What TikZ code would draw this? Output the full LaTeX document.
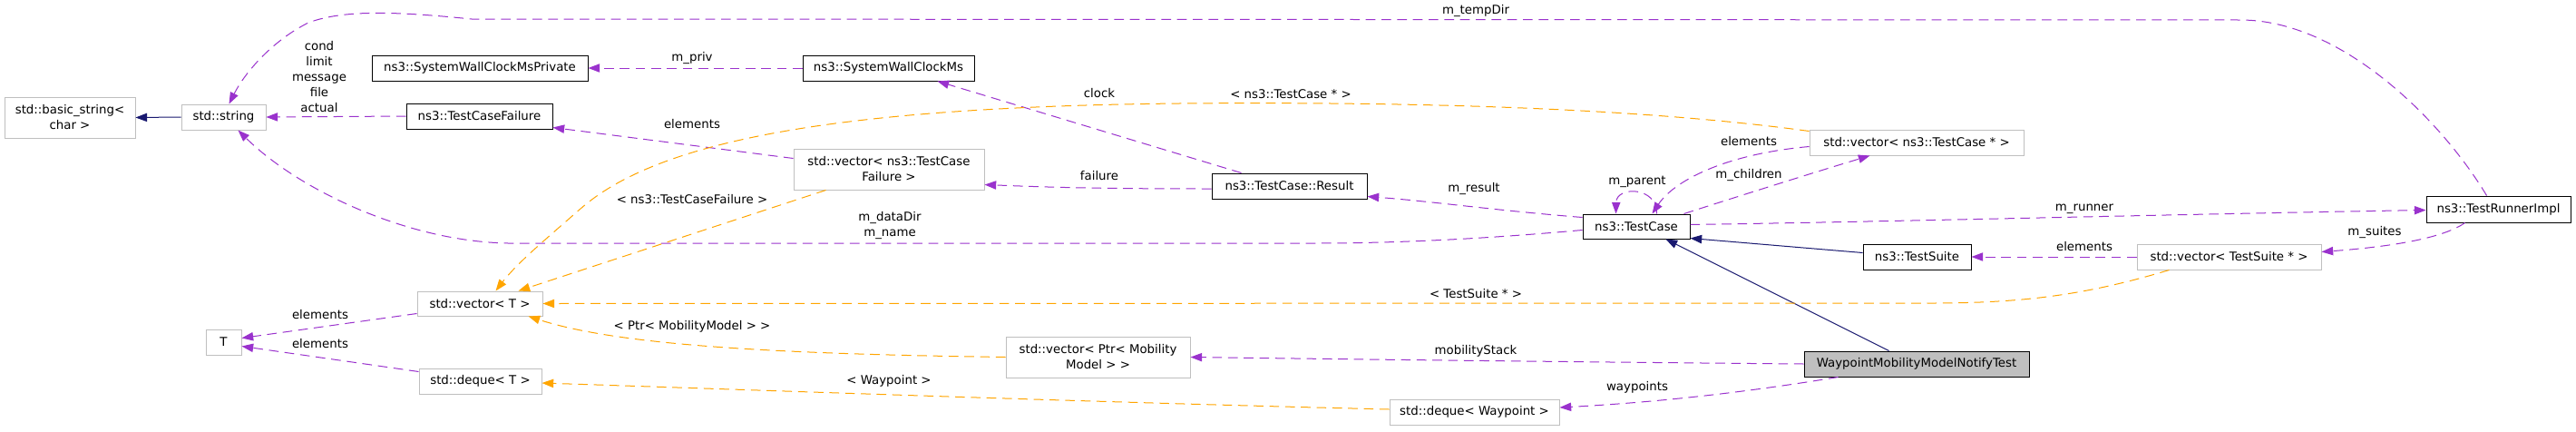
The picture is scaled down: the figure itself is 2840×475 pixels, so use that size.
\documentclass[tikz,border=0pt]{standalone}
\usepackage{fontspec}
\setmainfont{DejaVu Sans}
\usetikzlibrary{arrows.meta,calc}
\definecolor{dpurple}{HTML}{9A32CD}
\definecolor{dorange}{HTML}{FFA500}
\definecolor{dnavy}{HTML}{191970}
\definecolor{gborder}{HTML}{BFBFBF}
\definecolor{wfill}{HTML}{BFBFBF}
\begin{document}
\begin{tikzpicture}[x=0.75pt,y=-0.75pt,
  font=\fontsize{10pt}{12.75pt}\selectfont,
  sz/.style 2 args={minimum width=#1*0.75pt,minimum height=#2*0.75pt},
  gbox/.style={draw=gborder,line width=0.75pt,fill=white,inner sep=0pt,align=center},
  bbox/.style={draw=black,line width=0.75pt,fill=white,inner sep=0pt,align=center},
  tip/.style={-{Triangle[length=9.5pt,width=7pt]}},
  usage/.style={color=dpurple,line width=0.75pt,dash pattern=on 8pt off 5pt,tip},
  tmpl/.style={color=dorange,line width=0.75pt,dash pattern=on 8pt off 5pt,tip},
  inh/.style={color=dnavy,line width=0.75pt,tip},
  lbl/.style={inner sep=0pt,align=center}
]
\fill[white] (0,0) rectangle (2840,475);
\useasboundingbox (0,0) rectangle (2840,475);

% nodes
\node[gbox,sz={144}{45}] (bstr) at (77,129.5) {std::basic\_string<\\char >};
\node[gbox,sz={93}{28}] (str) at (246.5,129) {std::string};
\node[gbox,sz={39}{28}] (Tn) at (246.5,377) {T};
\node[gbox,sz={138}{27}] (vecT) at (529,334.5) {std::vector< T >};
\node[gbox,sz={135}{28}] (dqT) at (529.5,420) {std::deque< T >};
\node[bbox,sz={238}{28}] (swcp) at (529,75) {ns3::SystemWallClockMsPrivate};
\node[bbox,sz={189}{28}] (swc) at (979.5,75) {ns3::SystemWallClockMs};
\node[bbox,sz={161}{28}] (tcf) at (528.5,128) {ns3::TestCaseFailure};
\node[gbox,sz={210}{45}] (vtcf) at (980,186.5) {std::vector< ns3::TestCase\\Failure >};
\node[bbox,sz={171}{28}] (res) at (1421.5,205) {ns3::TestCase::Result};
\node[bbox,sz={118}{27}] (tc) at (1804,249.5) {ns3::TestCase};
\node[gbox,sz={236}{28}] (vtc) at (2113,157) {std::vector< ns3::TestCase * >};
\node[bbox,sz={159}{29}] (tri) at (2754.5,230.5) {ns3::TestRunnerImpl};
\node[bbox,sz={119}{28}] (ts) at (2113.5,283) {ns3::TestSuite};
\node[gbox,sz={203}{28}] (vts) at (2457.5,283) {std::vector< TestSuite * >};
\node[gbox,sz={203}{45}] (vptr) at (1210.5,393.5) {std::vector< Ptr< Mobility\\Model > >};
\node[gbox,sz={187}{28}] (dqw) at (1625.5,454) {std::deque< Waypoint >};
\node[bbox,fill=wfill,sz={248}{28}] (wm) at (2113,401) {WaypointMobilityModelNotifyTest};

% inheritance
\draw[inh] (str.west) -- (bstr.east);
\draw[inh] ($(wm.north west)+(94,0)$) -- ($(tc.south west)+(92,0)$);
\draw[inh] ($(ts.north west)+(0,10)$) -- ($(tc.south east)+(0,-1)$);

% usage (purple)
\draw[usage] (tcf.west) -- (str.east);
\draw[usage] ($(tri.north west)+(67,0)$) .. controls (2690,130) and (2580,22) .. (2470,22)
  -- (520,21) .. controls (440,13) and (380,10) .. (340,25)
  .. controls (300,45) and (270,80) .. ($(str.north west)+(53,0)$);
\draw[usage] ($(tc.north west)+(0,18)$) .. controls (1650,262) and (1550,268) .. (1450,268)
  -- (560,268) .. controls (450,266) and (330,210) .. ($(str.south west)+(63,0)$);
\draw[usage] (swc.west) -- (swcp.east);
\draw[usage] ($(res.north west)+(33,0)$) -- ($(swc.south west)+(149,0)$);
\draw[usage] ($(vtcf.north west)+(0,11)$) -- ($(tcf.south east)+(0,-2)$);
\draw[usage] ($(res.west)+(0,3)$) .. controls (1200,208) and (1150,206) .. ($(vtcf.south east)+(0,-6)$);
\draw[usage] ($(tc.north west)+(0,4)$) .. controls (1650,232) and (1580,222) .. ($(res.south east)+(0,-3)$);
\draw[usage] ($(tc.north west)+(82,0)$) .. controls (1827,205) and (1782,205) .. ($(tc.north west)+(37,0)$);
\draw[usage] ($(vtc.north west)+(0,19)$) .. controls (1900,170) and (1845,200) .. ($(tc.north west)+(77,0)$);
\draw[usage] ($(tc.north west)+(112,0)$) .. controls (1930,212) and (2000,190) .. ($(vtc.south west)+(67,0)$);
\draw[usage] ($(vecT.south west)+(0,-3)$) -- ($(Tn.north east)+(0,10)$);
\draw[usage] ($(dqT.north west)+(0,4)$) -- ($(Tn.north east)+(0,19)$);
\draw[usage] (wm.west) .. controls (1750,399) and (1500,396) .. (vptr.east);
\draw[usage] ($(wm.south west)+(38,0)$) .. controls (1950,428) and (1850,442) .. ($(dqw.east)+(0,-5)$);
\draw[usage] (vts.west) -- (ts.east);
\draw[usage] ($(tri.south west)+(43,0)$) .. controls (2690,265) and (2620,273) .. ($(vts.north east)+(0,9)$);
\draw[usage] ($(tc.north east)+(0,12)$) .. controls (2100,244) and (2400,236) .. ($(tri.north west)+(0,16)$);

% template (orange)
\draw[tmpl] ($(vtc.north west)+(0,2)$) .. controls (1800,118) and (1550,112) .. (1300,114)
  .. controls (900,118) and (720,160) .. (640,230)
  .. controls (600,265) and (570,290) .. ($(vecT.north west)+(87,0)$);
\draw[tmpl] ($(vtcf.south west)+(36,0)$) -- ($(vecT.north west)+(112,0)$);
\draw[tmpl] ($(vts.south west)+(36,0)$) .. controls (2300,325) and (2230,334) .. (2130,334) -- (vecT.east);
\draw[tmpl] (vptr.west) .. controls (850,390) and (680,380) .. ($(vecT.south west)+(123,0)$);
\draw[tmpl] ($(dqw.west)+(0,-3)$) .. controls (1200,443) and (900,432) .. ($(dqT.east)+(0,2)$);

% labels
\node[lbl] (l1) at (352,85) {cond\\limit\\message\\file\\actual};
\node[lbl] (l2) at (1627,12) {m\_tempDir};
\node[lbl] (l3) at (981,249) {m\_dataDir\\m\_name};
\node[lbl] (l4) at (763,64) {m\_priv};
\node[lbl] (l5) at (1212,103) {clock};
\node[lbl] (l6) at (763,137) {elements};
\node[lbl] (l7) at (1212,194) {failure};
\node[lbl] (l8) at (1625,208) {m\_result};
\node[lbl] (l9) at (1805,200) {m\_parent};
\node[lbl] (l10) at (1928,156) {elements};
\node[lbl] (l11) at (1928,193) {m\_children};
\node[lbl] (l12) at (1423,104) {< ns3::TestCase * >};
\node[lbl] (l13) at (763,220) {< ns3::TestCaseFailure >};
\node[lbl] (l14) at (1627,324) {< TestSuite * >};
\node[lbl] (l15) at (763,360) {< Ptr< MobilityModel > >};
\node[lbl] (l16) at (353,347) {elements};
\node[lbl] (l17) at (353,379) {elements};
\node[lbl] (l18) at (980,420) {< Waypoint >};
\node[lbl] (l19) at (1627,387) {mobilityStack};
\node[lbl] (l20) at (1805,427) {waypoints};
\node[lbl] (l21) at (2298,272) {elements};
\node[lbl] (l22) at (2618,256) {m\_suites};
\node[lbl] (l23) at (2298,230) {m\_runner};
\end{tikzpicture}
\end{document}
